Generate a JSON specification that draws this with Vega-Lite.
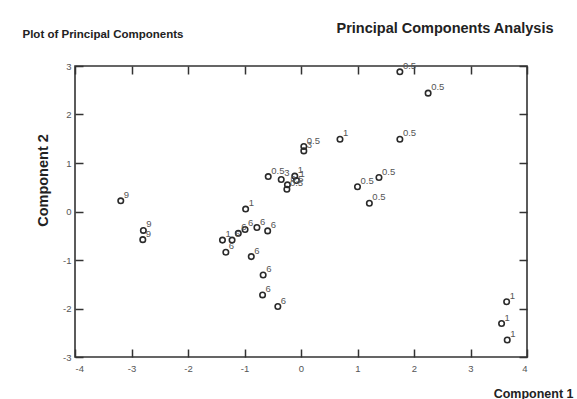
{
  "$schema": "https://vega.github.io/schema/vega-lite/v6.json",
  "width": 452,
  "height": 291,
  "autosize": {"type": "none"},
  "padding": {"left": 75, "top": 66, "right": 50, "bottom": 42},
  "background": "white",
  "config": {
    "view": {"stroke": "#333", "strokeWidth": 1.6},
    "font": "Liberation Sans",
    "axis": {
      "grid": false,
      "domain": false,
      "ticks": true,
      "offset": -8,
      "tickColor": "#333",
      "tickWidth": 1.5,
      "tickSize": 8,
      "labelFont": "Liberation Sans",
      "labelFontSize": 9.5,
      "labelColor": "#555",
      "titleFont": "Liberation Sans",
      "titleFontWeight": "bold",
      "titleColor": "#222"
    }
  },
  "data": {
    "values": [
      {"x": -3.19, "y": 0.22, "lab": "9"},
      {"x": -2.79, "y": -0.39, "lab": "9"},
      {"x": -2.8, "y": -0.58, "lab": "9"},
      {"x": -0.98, "y": 0.05, "lab": "1"},
      {"x": -1.39, "y": -0.59, "lab": "1"},
      {"x": -1.22, "y": -0.59, "lab": "6"},
      {"x": -1.33, "y": -0.84, "lab": "6"},
      {"x": -1.11, "y": -0.45, "lab": "6"},
      {"x": -0.99, "y": -0.37, "lab": "6"},
      {"x": -0.78, "y": -0.33, "lab": "6"},
      {"x": -0.59, "y": -0.4, "lab": "6"},
      {"x": -0.88, "y": -0.93, "lab": "6"},
      {"x": -0.67, "y": -1.31, "lab": "6"},
      {"x": -0.68, "y": -1.72, "lab": "6"},
      {"x": -0.41, "y": -1.96, "lab": "6"},
      {"x": -0.58, "y": 0.72, "lab": "0.5"},
      {"x": -0.35, "y": 0.66, "lab": "3"},
      {"x": -0.11, "y": 0.73, "lab": "1"},
      {"x": -0.08, "y": 0.64, "lab": "1"},
      {"x": -0.24, "y": 0.55, "lab": "0.5"},
      {"x": -0.25, "y": 0.46, "lab": "0.5"},
      {"x": 0.05, "y": 1.34, "lab": "0.5"},
      {"x": 0.05, "y": 1.25, "lab": "3"},
      {"x": 0.69, "y": 1.49, "lab": "1"},
      {"x": 1.75, "y": 2.88, "lab": "0.5"},
      {"x": 2.25, "y": 2.44, "lab": "0.5"},
      {"x": 1.75, "y": 1.49, "lab": "0.5"},
      {"x": 1.38, "y": 0.7, "lab": "0.5"},
      {"x": 1.0, "y": 0.51, "lab": "0.5"},
      {"x": 1.21, "y": 0.17, "lab": "0.5"},
      {"x": 3.64, "y": -1.86, "lab": "1"},
      {"x": 3.55, "y": -2.31, "lab": "1"},
      {"x": 3.65, "y": -2.65, "lab": "1"}
    ]
  },
  "layer": [
    {
      "mark": {"type": "point", "shape": "circle", "filled": false, "size": 30, "stroke": "#2a2a2a", "strokeWidth": 1.6, "opacity": 1},
      "encoding": {
        "x": {
          "field": "x", "type": "quantitative",
          "scale": {"domain": [-4, 4], "nice": false, "zero": false},
          "axis": {
            "orient": "bottom",
            "values": [-4, -3, -2, -1, 0, 1, 2, 3, 4],
            "labelExpr": "datum.value < 0 ? '-' + abs(datum.value) : '' + datum.value",
            "labelPadding": 6,
            "title": "Component 1",
            "titleFontSize": 12.5,
            "titleX": 498, "titleY": 44,
            "titleAlign": "right", "titleBaseline": "middle", "titleAnchor": null
          }
        },
        "y": {
          "field": "y", "type": "quantitative",
          "scale": {"domain": [-3, 3], "nice": false, "zero": false},
          "axis": {
            "orient": "left",
            "values": [-3, -2, -1, 0, 1, 2, 3],
            "labelExpr": "datum.value < 0 ? '-' + abs(datum.value) : '' + datum.value",
            "labelPadding": 4,
            "title": "Component 2",
            "titleFontSize": 14.5,
            "titleX": -40, "titleY": 114,
            "titleAngle": -90,
            "titleAlign": "center", "titleBaseline": "middle", "titleAnchor": null
          }
        }
      }
    },
    {
      "mark": {"type": "text", "align": "left", "baseline": "alphabetic", "dx": 3, "dy": -3, "fontSize": 9.5, "color": "#555", "font": "Liberation Sans"},
      "encoding": {
        "x": {"field": "x", "type": "quantitative", "scale": {"domain": [-4, 4], "nice": false, "zero": false}, "axis": null},
        "y": {"field": "y", "type": "quantitative", "scale": {"domain": [-3, 3], "nice": false, "zero": false}, "axis": null},
        "text": {"field": "lab", "type": "nominal"}
      }
    },
    {
      "mark": {"type": "rule", "opacity": 0},
      "encoding": {
        "x": {
          "field": "x", "type": "quantitative",
          "scale": {"domain": [-4, 4], "nice": false, "zero": false},
          "axis": {
            "orient": "top",
            "values": [-4, -3, -2, -1, 0, 1, 2, 3, 4],
            "labels": false,
            "title": "Principal Components Analysis",
            "titleFontSize": 14.5,
            "titleX": 478, "titleY": -46,
            "titleAlign": "right", "titleBaseline": "middle", "titleAnchor": null
          }
        },
        "y": {
          "field": "y", "type": "quantitative",
          "scale": {"domain": [-3, 3], "nice": false, "zero": false},
          "axis": {
            "orient": "right",
            "values": [-3, -2, -1, 0, 1, 2, 3],
            "labels": false,
            "title": "Plot of Principal Components",
            "titleFontSize": 11.5,
            "titleAngle": 0,
            "titleX": -497, "titleY": -32,
            "titleAlign": "left", "titleBaseline": "middle", "titleAnchor": null
          }
        }
      }
    }
  ],
  "resolve": {"axis": {"x": "independent", "y": "independent"}}
}
